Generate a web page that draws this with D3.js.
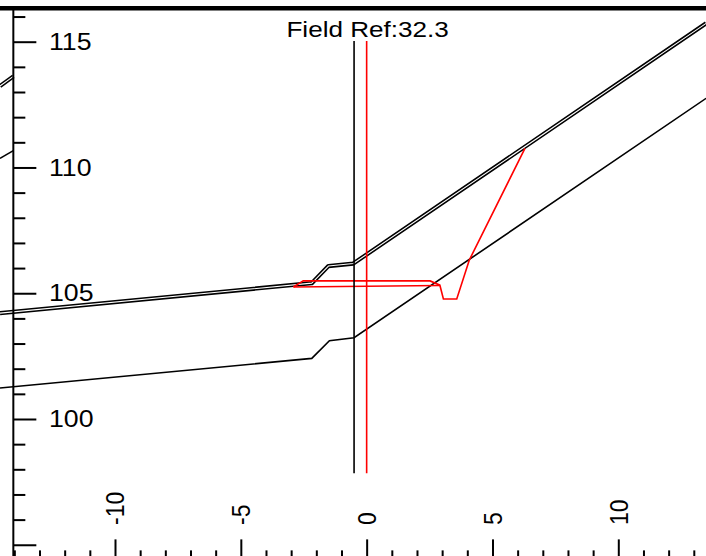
<!DOCTYPE html>
<html>
<head>
<meta charset="utf-8">
<script src="https://cdn.jsdelivr.net/npm/d3@7"></script>
<style>
  html, body { margin: 0; padding: 0; background: #fff; }
  svg { display: block; }
  text { font-family: "Liberation Sans", Arial, sans-serif; fill: #000; }
</style>
</head>
<body>
<svg id="chart" width="706" height="556"></svg>
<script>
// ---------- data (chart units: offset, elevation) ----------
const titleText = "Field Ref:32.3";
const yMajorTicks = [95, 100, 105, 110, 115];
const yTickLabels = [100, 105, 110, 115];
const yMinorTicks = [95, 96, 97, 98, 99, 100, 101, 102, 103, 104, 105, 106, 107, 108, 109, 110, 111, 112, 113, 114, 115, 116];
const xMajorTicks = [-10, -5, 0, 5, 10];
const xMinorTicks = [-14, -13, -12, -11, -10, -9, -8, -7, -6, -5, -4, -3, -2, -1, 0, 1, 2, 3, 4, 5, 6, 7, 8, 9, 10, 11, 12, 13];

// surface (double line)
const surfaceX = [-14.57, -2.18, -1.52, -0.53, 13.49];
const surfaceY = [104.21, 105.40, 106.08, 106.18, 115.73];
// lower layer (single line)
const lowerX = [-14.57, -2.18, -1.48, -0.50, 13.49];
const lowerY = [101.23, 102.41, 103.11, 103.23, 112.75];
// red design outline
const redTopX = [-2.91, -2.52, 2.52, 2.91, 3.05, 3.58, 4.08, 6.29];
const redTopY = [105.25, 105.49, 105.49, 105.32, 104.77, 104.77, 106.32, 110.76];
const redBottomX = [-2.91, 2.91];
const redBottomY = [105.25, 105.31];
// stubs at far left (neighbouring section)
const stubDoubleX = [-14.57, -14.04];
const stubDoubleY = [113.24, 113.62];
const stubSingleX = [-14.57, -14.04];
const stubSingleY = [110.36, 110.67];
// vertical reference lines
const blackRefX = -0.5;
const redRefX = 0;
const refYRange = [97.84, 115.03];
// frame
const axisXPos = -14.04;
const yTop = 116.33, yBottom = 94.3;

// ---------- scales ----------
const x = d3.scaleLinear().domain([-10, 10]).range([115, 618.3]);
const y = d3.scaleLinear().domain([100, 115]).range([419, 41.7]);

const svg = d3.select("#chart");
svg.append("rect").attr("width", 706).attr("height", 556).attr("fill", "#fff");

const zip = (xs, ys) => xs.map((v, i) => [v, ys[i]]);
const line = d3.line().x(d => x(d[0])).y(d => y(d[1]));

function drawDouble(pts) {
  svg.append("path").attr("d", line(pts)).attr("fill", "none")
    .attr("stroke", "#000").attr("stroke-width", 4.2).attr("stroke-linejoin", "round");
  svg.append("path").attr("d", line(pts)).attr("fill", "none")
    .attr("stroke", "#fff").attr("stroke-width", 1.1).attr("stroke-linejoin", "round");
}
function drawSingle(pts, color) {
  svg.append("path").attr("d", line(pts)).attr("fill", "none")
    .attr("stroke", color).attr("stroke-width", 1.6).attr("stroke-linejoin", "miter");
}

// data lines
drawSingle(zip(lowerX, lowerY), "#000");
drawSingle(zip(stubSingleX, stubSingleY), "#000");
drawDouble(zip(surfaceX, surfaceY));
drawDouble(zip(stubDoubleX, stubDoubleY));
drawSingle(zip(redTopX, redTopY), "#ff0000");
drawSingle(zip(redBottomX, redBottomY), "#ff0000");

// vertical reference lines
svg.append("line").attr("x1", x(blackRefX)).attr("x2", x(blackRefX))
  .attr("y1", y(refYRange[0])).attr("y2", y(refYRange[1]))
  .attr("stroke", "#000").attr("stroke-width", 1.6);
svg.append("line").attr("x1", x(redRefX)).attr("x2", x(redRefX))
  .attr("y1", y(refYRange[0])).attr("y2", y(refYRange[1]))
  .attr("stroke", "#ff0000").attr("stroke-width", 1.6);

// top frame line
svg.append("line").attr("x1", 0).attr("x2", 706)
  .attr("y1", y(yTop)).attr("y2", y(yTop))
  .attr("stroke", "#000").attr("stroke-width", 4.5);

// y axis
const ax = x(axisXPos);
const yMajorAxis = d3.axisRight(y).tickValues(yMajorTicks).tickSize(23).tickFormat("");
const yMinorAxis = d3.axisRight(y).tickValues(yMinorTicks.filter(v => !yMajorTicks.includes(v))).tickSize(12).tickFormat("");
const gy1 = svg.append("g").attr("transform", `translate(${ax},0)`).call(yMajorAxis);
const gy2 = svg.append("g").attr("transform", `translate(${ax},0)`).call(yMinorAxis);
[gy1, gy2].forEach(g => {
  g.select(".domain").remove();
  g.selectAll(".tick line").attr("stroke", "#000").attr("stroke-width", 2);
});
svg.append("line").attr("x1", ax).attr("x2", ax)
  .attr("y1", y(yTop)).attr("y2", y(yBottom))
  .attr("stroke", "#000").attr("stroke-width", 2);
svg.selectAll(".ylab").data(yTickLabels).enter().append("text")
  .attr("class", "ylab")
  .attr("transform", d => `translate(49,${y(d)}) scale(1.16,1)`)
  .attr("dy", "0.35em")
  .attr("font-size", 23)
  .text(d => d);

// x axis (at bottom, ticks pointing up)
const xMajorAxis = d3.axisTop(x).tickValues(xMajorTicks).tickSize(23).tickFormat("");
const xMinorAxis = d3.axisTop(x).tickValues(xMinorTicks.filter(v => !xMajorTicks.includes(v))).tickSize(12).tickFormat("");
const gx1 = svg.append("g").attr("transform", `translate(0,${y(yBottom)})`).call(xMajorAxis);
const gx2 = svg.append("g").attr("transform", `translate(0,${y(yBottom)})`).call(xMinorAxis);
[gx1, gx2].forEach(g => {
  g.select(".domain").remove();
  g.selectAll(".tick line").attr("stroke", "#000").attr("stroke-width", 2);
});
svg.selectAll(".xlab").data(xMajorTicks).enter().append("text")
  .attr("class", "xlab")
  .attr("transform", d => `translate(${x(d)},525) scale(1.16,1) rotate(-90)`)
  .attr("dy", "0.35em")
  .attr("font-size", 23)
  .text(d => d);

// title
svg.append("text")
  .attr("transform", `translate(${x(0) + 1},37) scale(1.16,1)`)
  .attr("text-anchor", "middle")
  .attr("font-size", 22.5)
  .text(titleText);
</script>
</body>
</html>
